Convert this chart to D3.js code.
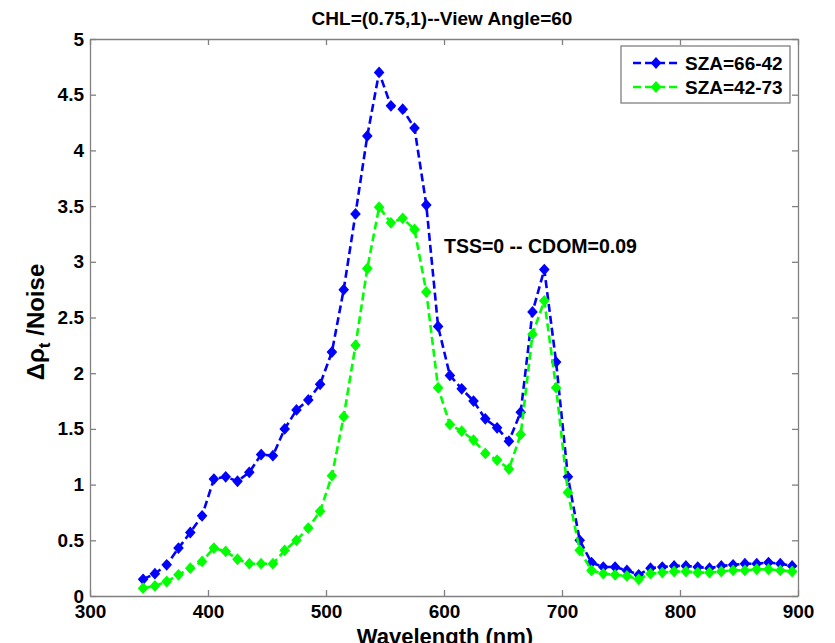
<!DOCTYPE html>
<html>
<head>
  <script src="https://cdnjs.cloudflare.com/ajax/libs/d3/7.8.5/d3.min.js"></script>
  <style>
    body { margin: 0; background: #fff; }
    text { font-family: "Liberation Sans", Arial, sans-serif; font-weight: bold; }
  </style>
</head>
<body>
  <svg></svg>
  <script>
    // wavelengths (nm)
    var wavelength = [345, 355, 365, 375, 385, 395, 405, 415, 425, 435, 445, 455, 465, 475, 485, 495,
      505, 515, 525, 535, 545, 555, 565, 575, 585, 595, 605, 615, 625, 635, 645, 655, 665, 675, 685, 695,
      705, 715, 725, 735, 745, 755, 765, 775, 785, 795, 805, 815, 825, 835, 845, 855, 865, 875, 885, 895];

    // SZA=66-42
    var szaA = [0.15, 0.20, 0.28, 0.43, 0.57, 0.72, 1.05, 1.07, 1.03, 1.11, 1.27, 1.26, 1.50, 1.67, 1.76, 1.90,
      2.19, 2.75, 3.43, 4.13, 4.70, 4.40, 4.37, 4.20, 3.51, 2.42, 1.98, 1.86, 1.75, 1.59, 1.51, 1.39, 1.65, 2.55, 2.93, 2.10,
      1.07, 0.50, 0.30, 0.26, 0.26, 0.23, 0.19, 0.25, 0.26, 0.27, 0.27, 0.26, 0.25, 0.27, 0.28, 0.29, 0.29, 0.30, 0.29, 0.27];

    // SZA=42-73
    var szaB = [0.07, 0.09, 0.13, 0.19, 0.25, 0.31, 0.43, 0.40, 0.33, 0.29, 0.29, 0.29, 0.41, 0.50, 0.61, 0.76,
      1.08, 1.61, 2.25, 2.94, 3.49, 3.35, 3.39, 3.29, 2.73, 1.87, 1.54, 1.48, 1.40, 1.28, 1.22, 1.14, 1.45, 2.35, 2.65, 1.87,
      0.93, 0.41, 0.23, 0.20, 0.19, 0.18, 0.15, 0.20, 0.21, 0.22, 0.22, 0.21, 0.21, 0.22, 0.23, 0.23, 0.24, 0.24, 0.23, 0.22];

    var seriesNames = ["SZA=66-42", "SZA=42-73"];
    var seriesColors = ["#0000ff", "#00ff00"];

    var xTicks = [300, 400, 500, 600, 700, 800, 900];
    var yTicks = [0, 0.5, 1, 1.5, 2, 2.5, 3, 3.5, 4, 4.5, 5];

    var svgWidth = 835, svgHeight = 643;
    var margin = { top: 39, right: 37, bottom: 47, left: 90 };
    var width = svgWidth - margin.left - margin.right;
    var height = svgHeight - margin.top - margin.bottom;

    var svg = d3.select("svg").attr("width", svgWidth).attr("height", svgHeight);
    var g = svg.append("g").attr("transform", "translate(" + margin.left + "," + margin.top + ")");

    var x = d3.scaleLinear().domain([300, 900]).range([0, width]);
    var y = d3.scaleLinear().domain([0, 5]).range([height, 0]);

    var fmt = d3.format("~g");
    var axisColor = "#808080";

    // bottom + left axes with labels, top + right mirrored ticks
    var xAxis = g.append("g").attr("transform", "translate(0," + height + ")")
      .call(d3.axisBottom(x).tickValues(xTicks).tickFormat(fmt).tickSizeInner(-6).tickSizeOuter(0).tickPadding(9));
    var yAxis = g.append("g")
      .call(d3.axisLeft(y).tickValues(yTicks).tickFormat(fmt).tickSizeInner(-6).tickSizeOuter(0).tickPadding(6));
    var xTop = g.append("g")
      .call(d3.axisTop(x).tickValues(xTicks).tickFormat("").tickSizeInner(-6).tickSizeOuter(0));
    var yRight = g.append("g").attr("transform", "translate(" + width + ",0)")
      .call(d3.axisRight(y).tickValues(yTicks).tickFormat("").tickSizeInner(-6).tickSizeOuter(0));

    [xAxis, yAxis, xTop, yRight].forEach(function(a) {
      a.selectAll("path.domain").attr("stroke", axisColor).attr("stroke-width", 1.3);
      a.selectAll(".tick line").attr("stroke", axisColor).attr("stroke-width", 1.3);
      a.selectAll(".tick text").attr("fill", "#000").style("font-size", "19px")
        .style("font-family", "'Liberation Sans', Arial, sans-serif").style("font-weight", "bold");
    });

    // square diamond like MATLAB's 'd' marker
    var squareDiamond = {
      draw: function(ctx, size) {
        var r = Math.sqrt(size / 2);
        ctx.moveTo(0, -r);
        ctx.lineTo(r * 0.9, 0);
        ctx.lineTo(0, r);
        ctx.lineTo(-r * 0.9, 0);
        ctx.closePath();
      }
    };

    var line = d3.line().x(function(d) { return x(d[0]); }).y(function(d) { return y(d[1]); });
    var diamond = d3.symbol().type(squareDiamond).size(50);

    [szaA, szaB].forEach(function(vals, i) {
      var pts = wavelength.map(function(w, j) { return [w, vals[j]]; });
      g.append("path").datum(pts)
        .attr("d", line)
        .attr("fill", "none")
        .attr("stroke", seriesColors[i])
        .attr("stroke-width", 2.6)
        .attr("stroke-dasharray", "8,4");
      g.selectAll(".m" + i).data(pts).enter().append("path")
        .attr("class", "m" + i)
        .attr("d", diamond)
        .attr("transform", function(d) { return "translate(" + x(d[0]) + "," + y(d[1]) + ")"; })
        .attr("fill", seriesColors[i])
        .attr("stroke", seriesColors[i])
        .attr("stroke-width", 1.2);
    });

    // legend
    var lg = g.append("g").attr("transform", "translate(" + (621 - margin.left) + "," + (46 - margin.top) + ")");
    lg.append("rect").attr("width", 169).attr("height", 57)
      .attr("fill", "#fff").attr("stroke", axisColor).attr("stroke-width", 1.3);
    seriesNames.forEach(function(name, i) {
      var ly = 17 + i * 24;
      lg.append("line").attr("x1", 12).attr("x2", 58).attr("y1", ly).attr("y2", ly)
        .attr("stroke", seriesColors[i]).attr("stroke-width", 2.6).attr("stroke-dasharray", "8,4");
      lg.append("path").attr("d", diamond).attr("transform", "translate(35," + ly + ")")
        .attr("fill", seriesColors[i]).attr("stroke", seriesColors[i]).attr("stroke-width", 1.2);
      lg.append("text").attr("x", 64).attr("y", ly + 7).style("font-size", "19px").text(name);
    });

    // title
    svg.append("text").attr("x", margin.left + width / 2 - 2).attr("y", 25)
      .attr("text-anchor", "middle").style("font-size", "19px")
      .text("CHL=(0.75,1)--View Angle=60");

    // annotation
    g.append("text").attr("x", 444 - margin.left).attr("y", 253 - margin.top)
      .style("font-size", "19.5px").text("TSS=0 -- CDOM=0.09");

    // x label (cut by the bottom edge, as in the original figure)
    svg.append("text").attr("x", margin.left + width / 2 + 1).attr("y", 644)
      .attr("text-anchor", "middle").style("font-size", "22px")
      .text("Wavelength (nm)");

    // y label
    var yl = svg.append("text").attr("transform", "translate(44,322) rotate(-90)")
      .attr("text-anchor", "middle").style("font-size", "24px");
    yl.append("tspan").text("\u0394\u03c1");
    yl.append("tspan").attr("dy", 6).style("font-size", "17px").text("t");
    yl.append("tspan").attr("dy", -6).text(" /Noise");
  </script>
</body>
</html>
